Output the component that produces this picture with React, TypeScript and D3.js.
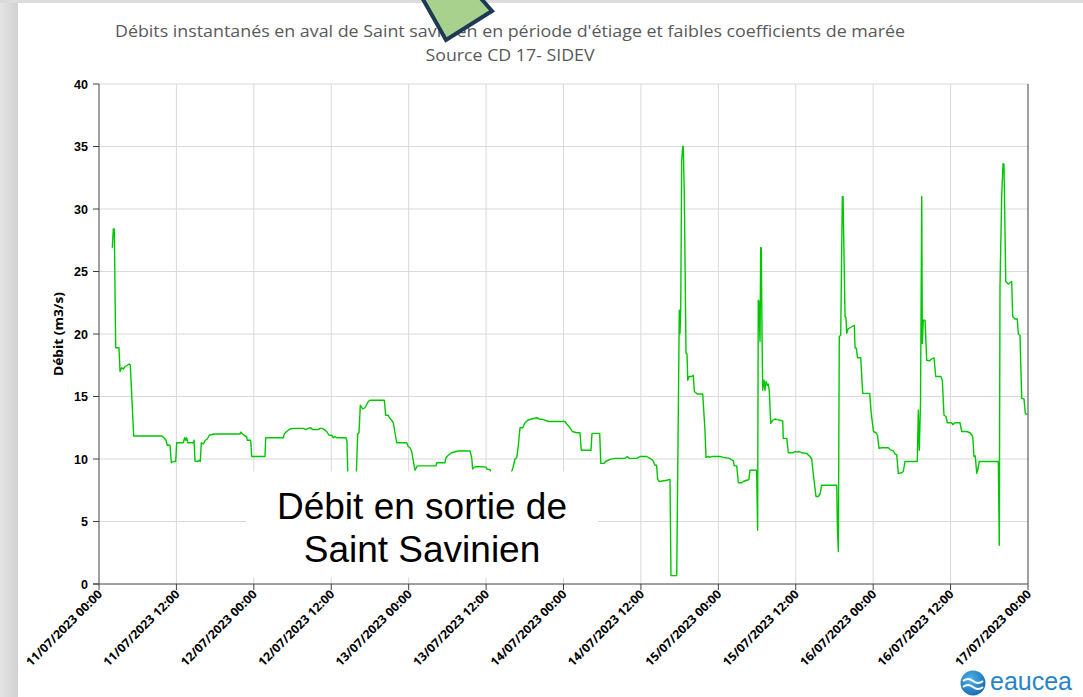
import React from "react";
import * as d3 from "d3";

// ---- data (hours since 11/07/2023 00:00, débit m3/s) ----
const hours = [
  2.06, 2.22, 2.37, 2.59, 3.10, 3.26, 3.52, 3.77, 4.03, 4.39, 4.70, 4.85, 5.38, 9.72, 10.08, 10.39, 10.59, 11.01, 11.21, 11.52,
  11.89, 12.04, 13.07, 13.28, 13.44, 13.59, 13.75, 14.62, 14.73, 14.88, 15.30, 15.50, 15.70, 15.86, 16.17, 16.48, 16.79, 17.10, 17.83, 21.86,
  21.96, 22.27, 22.63, 22.89, 22.99, 23.51, 23.67, 25.73, 25.84, 28.57, 28.72, 29.09, 29.61, 30.12, 31.67, 32.09, 32.40, 32.82, 33.12, 33.99,
  34.26, 34.61, 34.92, 35.30, 35.65, 36.07, 36.32, 36.58, 36.84, 38.29, 38.44, 38.60, 39.22, 39.84, 40.10, 40.30, 40.51, 40.87, 41.23, 41.74,
  42.01, 42.78, 44.22, 44.44, 44.84, 45.00, 45.37, 45.62, 45.88, 46.14, 47.70, 47.94, 48.21, 48.47, 48.67, 48.98, 49.34, 52.24, 52.35, 53.63,
  53.79, 54.14, 54.67, 55.34, 55.69, 57.51, 57.77, 57.92, 58.13, 58.75, 59.99, 60.19, 60.61, 60.87, 62.16, 63.71, 63.97, 64.17, 64.48, 64.75,
  65.00, 65.26, 65.68, 66.03, 66.45, 67.07, 67.85, 68.25, 68.87, 69.65, 72.23, 72.50, 73.01, 73.36, 74.05, 74.56, 74.76, 76.26, 76.42, 77.61,
  77.78, 78.31, 78.51, 79.21, 79.98, 81.53, 81.89, 82.15, 83.35, 83.86, 84.90, 85.41, 85.83, 86.18, 86.42, 86.60, 86.85, 88.00, 88.51, 88.66,
  89.55, 89.95, 90.06, 90.17, 90.32, 90.48, 90.57, 90.73, 90.99, 91.15, 91.26, 91.46, 91.88, 92.12, 92.28, 92.74, 93.58, 93.93, 94.09, 94.44,
  94.71, 94.97, 96.26, 96.77, 97.70, 97.92, 98.32, 98.48, 98.85, 99.10, 99.62, 99.87, 100.38, 100.74, 100.90, 101.94, 102.09, 102.19, 102.30, 102.46,
  102.57, 102.66, 102.77, 102.88, 103.08, 103.23, 103.39, 103.59, 103.75, 103.90, 104.12, 104.43, 104.79, 105.14, 105.56, 105.98, 106.07, 106.60, 106.85, 107.62,
  107.88, 108.19, 108.55, 108.92, 109.70, 110.21, 110.47, 110.83, 111.14, 111.50, 111.76, 112.03, 114.35, 114.44, 114.60, 114.75, 114.97, 115.22, 115.33, 115.64,
  115.79, 115.90, 116.10, 116.73, 117.08, 117.19, 117.39, 117.57, 118.07, 118.38, 119.46, 119.70, 120.05, 120.44, 120.67, 120.91, 121.32, 122.35, 122.61, 123.12,
  123.38, 123.65, 123.90, 124.42, 124.67, 124.93, 126.84, 127.00, 127.15, 127.34, 127.53, 127.62, 127.77, 128.04, 128.30, 128.70, 129.08, 129.43, 129.70, 130.47,
  130.72, 130.98, 131.29, 131.49, 132.18, 132.33, 132.69, 133.46, 133.73, 134.50, 135.01, 135.43, 135.63, 135.83, 136.05, 136.20, 136.45, 139.40, 139.55, 139.66,
  139.92, 140.13, 140.28, 140.55, 140.95, 141.21, 141.47, 141.63, 141.99, 142.34, 142.50, 142.76, 143.03, 143.38, 143.58, 143.89,
];
const debits = [
  26.9, 28.4, 28.4, 18.9, 18.9, 17.0, 17.3, 17.2, 17.4, 17.5, 17.6, 17.5, 11.84, 11.84, 11.7, 11.5, 11.1, 11.1, 9.7, 9.8,
  9.8, 11.3, 11.3, 11.7, 11.5, 11.7, 11.3, 11.3, 11.5, 9.84, 9.8, 9.9, 9.8, 11.3, 11.2, 11.5, 11.6, 11.9, 12.0, 12.0,
  12.15, 12.0, 11.84, 11.8, 11.5, 11.5, 10.2, 10.2, 11.7, 11.7, 12.0, 12.2, 12.4, 12.45, 12.45, 12.35, 12.45, 12.5, 12.35, 12.35,
  12.45, 12.45, 12.35, 12.2, 11.9, 11.9, 11.7, 11.8, 11.7, 11.7, 11.4, 8.0, 7.5, 8.0, 12.0, 12.1, 14.3, 14.0, 14.1, 14.6,
  14.7, 14.7, 14.7, 13.5, 13.5, 13.3, 13.1, 12.9, 12.1, 11.3, 11.3, 11.0, 10.9, 10.6, 10.0, 9.1, 9.45, 9.45, 9.7, 9.7,
  10.1, 10.3, 10.5, 10.6, 10.64, 10.64, 10.1, 9.2, 9.35, 9.4, 9.35, 9.17, 9.17, 8.5, 8.0, 8.3, 9.0, 9.3, 10.0, 10.1,
  11.1, 12.5, 12.5, 12.9, 13.1, 13.2, 13.3, 13.2, 13.15, 13.0, 13.0, 12.8, 12.5, 12.2, 12.1, 12.1, 10.7, 10.7, 12.05, 12.05,
  9.65, 9.65, 9.8, 9.97, 10.05, 10.05, 10.2, 10.05, 10.05, 10.2, 10.2, 10.05, 9.9, 9.5, 9.5, 8.37, 8.2, 8.3, 8.37, 0.67,
  0.67, 21.9, 20.05, 22.0, 33.9, 35.0, 35.0, 31.0, 18.45, 18.4, 16.3, 16.6, 16.6, 16.7, 15.4, 15.2, 15.2, 12.3, 10.13, 10.2,
  10.13, 10.2, 10.2, 10.13, 10.05, 10.0, 9.85, 9.45, 9.45, 8.1, 8.1, 8.2, 8.3, 8.35, 9.1, 9.1, 4.3, 22.7, 22.6, 19.4,
  26.9, 26.9, 20.0, 15.5, 16.3, 15.5, 16.2, 15.9, 16.0, 15.4, 12.85, 13.1, 13.2, 13.15, 13.1, 13.05, 11.65, 11.65, 10.5, 10.5,
  10.6, 10.55, 10.6, 10.5, 10.45, 10.2, 10.0, 8.3, 7.0, 7.0, 7.2, 7.9, 7.9, 4.85, 2.6, 19.8, 19.9, 31.0, 31.0, 21.4,
  21.3, 20.05, 20.4, 20.6, 20.7, 18.9, 18.85, 18.1, 18.1, 15.25, 15.25, 13.65, 12.2, 12.1, 11.9, 10.85, 10.9, 10.9, 10.75, 10.65,
  10.4, 10.35, 8.85, 8.9, 9.0, 9.8, 9.8, 13.9, 10.7, 14.5, 31.0, 19.25, 21.1, 21.1, 17.9, 17.85, 18.0, 18.1, 16.6, 16.6,
  16.3, 13.5, 13.4, 12.9, 12.9, 12.75, 12.9, 12.9, 12.2, 12.2, 12.1, 11.8, 10.2, 10.25, 8.85, 9.1, 9.8, 9.8, 3.1, 23.8,
  31.0, 33.6, 33.6, 24.2, 24.0, 24.1, 24.2, 21.4, 21.2, 21.2, 20.0, 19.9, 14.85, 14.8, 13.65, 13.55,
];
const xTickLabels = [
  "11/07/2023 00:00", "11/07/2023 12:00", "12/07/2023 00:00", "12/07/2023 12:00", "13/07/2023 00:00",
  "13/07/2023 12:00", "14/07/2023 00:00", "14/07/2023 12:00", "15/07/2023 00:00", "15/07/2023 12:00",
  "16/07/2023 00:00", "16/07/2023 12:00", "17/07/2023 00:00",
];
const yTicks = [0, 5, 10, 15, 20, 25, 30, 35, 40];
const title = "Débits instantanés en aval de Saint savinien en période d'étiage et faibles coefficients de marée";
const subtitle = "Source CD 17- SIDEV";
const yAxisTitle = "Débit (m3/s)";
const boxLines = ["Débit en sortie de", "Saint Savinien"];

export default function App() {
  const W = 1083, H = 697;
  const x = d3.scaleLinear().domain([0, 144]).range([99, 1028]);
  const y = d3.scaleLinear().domain([0, 40]).range([584, 84]);
  const pts = hours.map((h, i) => [h, debits[i]] as [number, number]);
  const line = d3.line<[number, number]>().x(d => x(d[0])).y(d => y(d[1]));
  const tickHours = xTickLabels.map((_, i) => i * 12);
  const narrow = "'Liberation Sans Narrow', 'Open Sans', sans-serif";

  return (
    <svg width={W} height={H} style={{ position: "absolute", left: 0, top: 0, background: "#fff" }}
      fontFamily="'Liberation Sans', Arial, sans-serif">
      <defs>
        <linearGradient id="lstrip" x1="0" x2="1" y1="0" y2="0">
          <stop offset="0" stopColor="#e4e4e4" />
          <stop offset="1" stopColor="#d2d2d2" />
        </linearGradient>
        <radialGradient id="logoG" cx="0.4" cy="0.35" r="0.7">
          <stop offset="0" stopColor="#4fb3e8" />
          <stop offset="1" stopColor="#1468b0" />
        </radialGradient>
      </defs>
      <rect x={0} y={0} width={W} height={H} fill="#fff" />
      <rect x={0} y={0} width={18} height={H} fill="url(#lstrip)" />
      <rect x={0} y={0} width={W} height={3} fill="#dcdcdc" />

      {/* grid */}
      {yTicks.filter(t => t > 0).map(t => (
        <line key={"gy" + t} x1={99} x2={1028} y1={y(t)} y2={y(t)} stroke="#d9d9d9" strokeWidth={1} />
      ))}
      {tickHours.filter(h => h > 0 && h < 144).map(h => (
        <line key={"gx" + h} x1={x(h)} x2={x(h)} y1={84} y2={584} stroke="#d9d9d9" strokeWidth={1} />
      ))}

      {/* series */}
      <path d={line(pts) || ""} fill="none" stroke="#00c800" strokeWidth={1.4} strokeLinejoin="round" />

      {/* axes */}
      <line x1={99} x2={99} y1={84} y2={584} stroke="#404040" strokeWidth={1} />
      <line x1={1028} x2={1028} y1={84} y2={584} stroke="#404040" strokeWidth={1} />
      <line x1={93} x2={1028} y1={584} y2={584} stroke="#404040" strokeWidth={1} />
      {yTicks.map(t => (
        <g key={"ty" + t}>
          <line x1={93} x2={99} y1={y(t)} y2={y(t)} stroke="#404040" />
          <text x={88} y={y(t) + 4.5} textAnchor="end" fontSize={12.5} fontWeight="bold" fill="#000">{t}</text>
        </g>
      ))}
      {tickHours.map((h, i) => (
        <g key={"tx" + h}>
          <line x1={x(h)} x2={x(h)} y1={584} y2={590} stroke="#404040" />
          <text transform={`translate(${x(h) + 4},${595}) rotate(-45)`} textAnchor="end" fontSize={12}
            fontWeight="bold" fontFamily={narrow} fill="#000" textLength={102} lengthAdjust="spacingAndGlyphs">
            {xTickLabels[i]}
          </text>
        </g>
      ))}
      <text transform="translate(63,334) rotate(-90)" textAnchor="middle" fontSize={13} fontWeight="bold"
        fontFamily={narrow} fill="#000" textLength={84} lengthAdjust="spacingAndGlyphs">{yAxisTitle}</text>

      {/* titles */}
      <text x={510} y={37} textAnchor="middle" fontSize={16} fill="#595959" fontFamily={narrow}
        textLength={790} lengthAdjust="spacingAndGlyphs">{title}</text>
      <text x={510} y={61} textAnchor="middle" fontSize={16} fill="#595959" fontFamily={narrow}
        textLength={169} lengthAdjust="spacingAndGlyphs">{subtitle}</text>

      {/* arrow decoration */}
      <polygon points="420,-6 446,40 492,11 477,-6" fill="#a9d18e" stroke="#1d3a55" strokeWidth={4}
        strokeLinejoin="miter" />

      {/* text box */}
      <rect x={246} y={471.5} width={352} height={106} fill="#fff" />
      {boxLines.map((t, i) => (
        <text key={t} x={422} y={519 + i * 43} textAnchor="middle" fontSize={37} fill="#000"
          fontFamily="'Liberation Sans', Arial, sans-serif">{t}</text>
      ))}

      {/* logo */}
      <circle cx={973} cy={683} r={12.5} fill="url(#logoG)" />
      <path d="M963,681 q5,-4 10,0 t10,0" fill="none" stroke="#fff" strokeWidth={2} />
      <path d="M963,687 q5,-4 10,0 t10,0" fill="none" stroke="#fff" strokeWidth={2} />
      <text x={990} y={690} fontSize={25} fill="#2784c8" fontFamily="'Liberation Sans', Arial, sans-serif">eaucea</text>
    </svg>
  );
}
